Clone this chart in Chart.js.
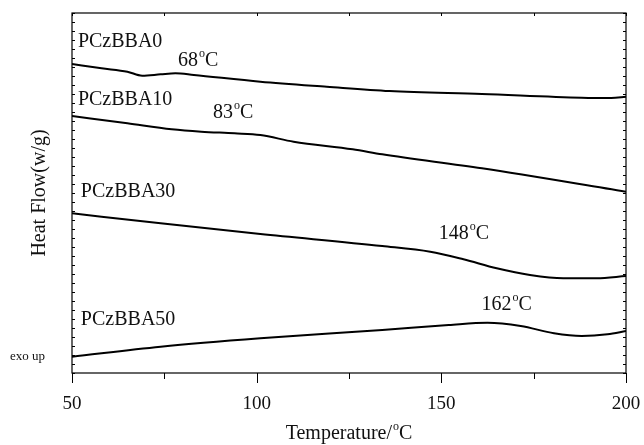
<!DOCTYPE html>
<html>
<head>
<meta charset="utf-8">
<script src="https://cdn.jsdelivr.net/npm/chart.js@4.4.1/dist/chart.umd.min.js"></script>
<style>
  body { margin: 0; background: #fff; }
</style>
</head>
<body>
<canvas id="dscChart" width="644" height="445"></canvas>
<script>
var serif = '"Liberation Serif", "Times New Roman", serif';

// DSC traces: temperature (°C) and heat flow (arbitrary units, exo up)
var temp0 = [50, 58, 65, 69, 74, 78, 83, 101, 119, 136, 161, 188, 196, 200];
var flow0 = [309, 304.7, 301.3, 297.3, 298.7, 299.7, 298, 291.3, 286.3, 282, 279, 275.3, 275, 276.3];
var temp10 = [50, 65, 77, 85, 94, 101, 110, 126, 134, 161, 200];
var flow10 = [257, 249.7, 243.7, 241.3, 239.7, 238, 231.3, 223.7, 218.7, 204.7, 181.3];
var temp30 = [50, 74, 101, 134, 147, 156, 165, 174, 183, 192, 200];
var flow30 = [159.7, 149.7, 139, 127, 121.3, 113.7, 104.7, 98, 94.7, 94.7, 97];
var temp50 = [50, 74, 101, 134, 152, 162.5, 171.5, 180.5, 188, 195, 200];
var flow50 = [16.3, 26.3, 34.7, 43, 48, 50.3, 47, 39.7, 37, 38.7, 42];

var sampleNames = ['PCzBBA0', 'PCzBBA10', 'PCzBBA30', 'PCzBBA50'];
var tgValues = ['68', '83', '148', '162'];
var xTickLabels = [50, 100, 150, 200];

function toPoints(xs, ys) {
  return xs.map(function(x, i) { return { x: x, y: ys[i] }; });
}

function makeSet(name, xs, ys) {
  return {
    label: name,
    data: toPoints(xs, ys),
    borderColor: '#000',
    borderWidth: 2,
    pointRadius: 0,
    fill: false,
    cubicInterpolationMode: 'monotone'
  };
}

// draws "68" + superscript o + "C"
function degText(ctx, txt, x, y) {
  ctx.textAlign = 'left';
  ctx.textBaseline = 'middle';
  ctx.font = '20px ' + serif;
  ctx.fillText(txt, x, y);
  var w = ctx.measureText(txt).width;
  ctx.font = '12px ' + serif;
  ctx.fillText('o', x + w + 1, y - 7);
  var w2 = ctx.measureText('o').width;
  ctx.font = '20px ' + serif;
  ctx.fillText('C', x + w + w2 + 1, y);
}

var decorPlugin = {
  id: 'decor',
  afterDraw: function(chart) {
    var ctx = chart.ctx;
    var a = chart.chartArea;
    var xs = chart.scales.x, ys = chart.scales.y;
    ctx.save();
    ctx.strokeStyle = '#000';
    ctx.fillStyle = '#111';
    ctx.lineWidth = 1.2;
    ctx.strokeRect(a.left, a.top, a.right - a.left, a.bottom - a.top);

    // x ticks: outside at bottom, short inside at top
    ctx.lineWidth = 1;
    xs.ticks.forEach(function(t) {
      var px = Math.round(xs.getPixelForValue(t.value)) + 0.5;
      var len = xTickLabels.indexOf(t.value) >= 0 ? 10 : 6;
      ctx.beginPath();
      ctx.moveTo(px, a.bottom);
      ctx.lineTo(px, a.bottom + len);
      ctx.moveTo(px, a.top);
      ctx.lineTo(px, a.top + 3);
      ctx.stroke();
    });
    // y minor ticks, inside on both sides
    for (var v = 0; v <= 360; v += 9) {
      var py = Math.round(ys.getPixelForValue(v)) + 0.5;
      ctx.beginPath();
      ctx.moveTo(a.left, py);
      ctx.lineTo(a.left + 3, py);
      ctx.moveTo(a.right - 3, py);
      ctx.lineTo(a.right, py);
      ctx.stroke();
    }

    // sample names and Tg labels
    var namePos = [[51.6, 331], [51.6, 273], [52.4, 181], [52.4, 53]];
    var tgPos = [[78.7, 312], [88.2, 260], [149.3, 139], [160.9, 68]];
    ctx.textAlign = 'left';
    ctx.textBaseline = 'middle';
    sampleNames.forEach(function(n, i) {
      ctx.font = '20px ' + serif;
      ctx.fillText(n, xs.getPixelForValue(namePos[i][0]), ys.getPixelForValue(namePos[i][1]));
      degText(ctx, tgValues[i] + '', xs.getPixelForValue(tgPos[i][0]), ys.getPixelForValue(tgPos[i][1]));
    });

    ctx.font = '13px ' + serif;
    ctx.fillText('exo up', a.left - 62, ys.getPixelForValue(16));

    // axis titles
    ctx.save();
    ctx.translate(40, (a.top + a.bottom) / 2);
    ctx.rotate(-Math.PI / 2);
    ctx.textAlign = 'center';
    ctx.font = '20px ' + serif;
    ctx.fillText('Heat Flow(w/g)', 0, 0);
    ctx.restore();

    ctx.font = '20px ' + serif;
    var tw = ctx.measureText('Temperature/').width + ctx.measureText('C').width + 7;
    degText(ctx, 'Temperature/', (a.left + a.right) / 2 - tw / 2, 434);
    ctx.restore();
  }
};

new Chart(document.getElementById('dscChart'), {
  type: 'line',
  data: {
    datasets: [
      makeSet(sampleNames[0], temp0, flow0),
      makeSet(sampleNames[1], temp10, flow10),
      makeSet(sampleNames[2], temp30, flow30),
      makeSet(sampleNames[3], temp50, flow50)
    ]
  },
  plugins: [decorPlugin],
  options: {
    responsive: false,
    animation: false,
    layout: { padding: { top: 13, right: 18, left: 0, bottom: 0 } },
    plugins: {
      legend: { display: false },
      tooltip: { enabled: false }
    },
    scales: {
      x: {
        type: 'linear',
        min: 50,
        max: 200,
        grid: { display: false },
        border: { display: false },
        ticks: {
          stepSize: 25,
          maxRotation: 0,
          padding: 12,
          color: '#111',
          font: { family: serif, size: 19 },
          callback: function(v) { return xTickLabels.indexOf(v) >= 0 ? v : ''; }
        },
        afterFit: function(s) {
          s.height = 72;
          s.paddingLeft = 0;
          s.paddingRight = 0;
        }
      },
      y: {
        min: 0,
        max: 360,
        grid: { display: false },
        border: { display: false },
        ticks: { display: false },
        afterFit: function(s) { s.width = 72; }
      }
    }
  }
});
</script>
</body>
</html>
